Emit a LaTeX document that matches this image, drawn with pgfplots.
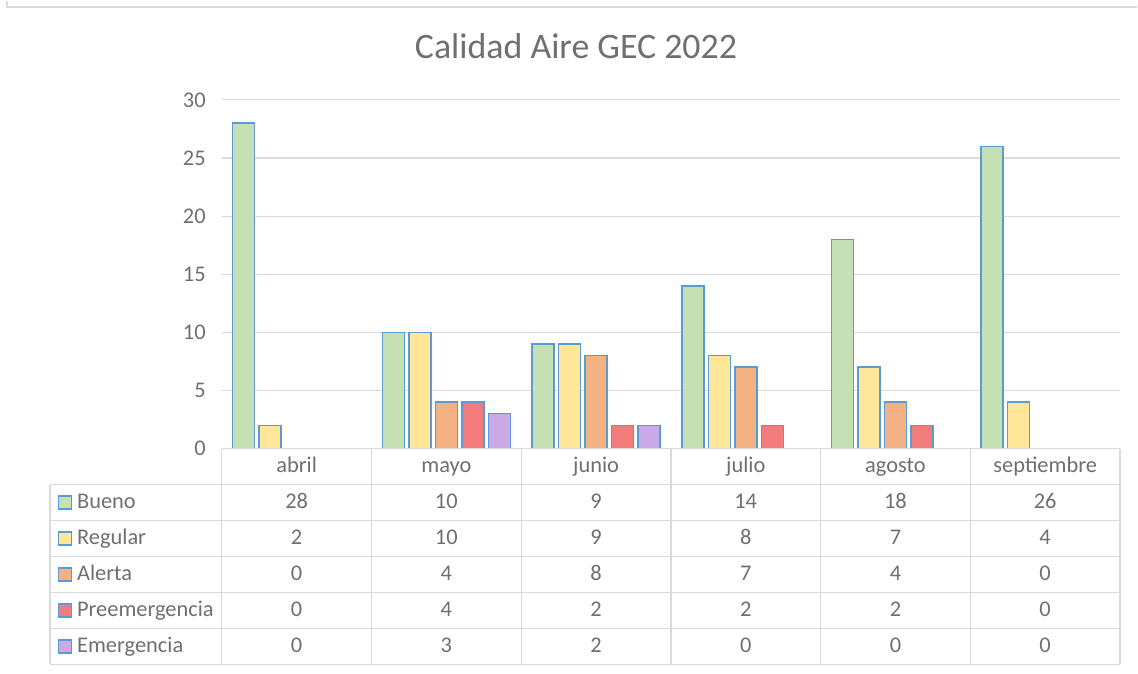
\documentclass[border=0pt]{standalone}
\usepackage{fontspec}
\setmainfont{Carlito}
\usepackage{pgfplots}
\pgfplotsset{compat=1.18}
\definecolor{txt}{HTML}{6F6F6F}
\definecolor{gridc}{HTML}{DADADA}
\definecolor{edge}{HTML}{5B9BD5}
\definecolor{cB}{HTML}{C5E0B4}
\definecolor{cR}{HTML}{FFE699}
\definecolor{cA}{HTML}{F4B183}
\definecolor{cP}{HTML}{F47B7B}
\definecolor{cE}{HTML}{CAA9E6}
\begin{document}
\begin{tikzpicture}[x=1bp,y=1bp]
\path (0,0) rectangle (1138,673);
\draw[gridc, line width=2bp] (7,673)--(7,667)--(1138,667);
\begin{axis}[at={(222bp,225bp)}, anchor=south west, scale only axis,
  width=899bp, height=349bp,
  xmin=-0.5, xmax=5.5, ymin=0, ymax=30,
  ytick={0,5,...,30}, ymajorgrids, grid style={gridc, line width=1.2bp},
  axis line style={draw=none}, tick style={draw=none},
  xtick={0,...,5}, xticklabels={abril,mayo,junio,julio,agosto,septiembre},
  tick label style={font=\fontsize{22.5}{26}\selectfont, text=txt},
  /pgf/number format/assume math mode=true,
  x tick label style={anchor=base, yshift=-24bp},
  y tick label style={xshift=-12.7bp},
  clip=false]
\addplot[ybar, bar width=0.147, bar shift=-0.354, fill=cB, draw=edge, line width=1.5bp]
  coordinates {(0,28) (1,10) (2,9) (3,14) (4,18) (5,26)};
\addplot[ybar, bar width=0.147, bar shift=-0.177, fill=cR, draw=edge, line width=1.5bp]
  coordinates {(0,2) (1,10) (2,9) (3,8) (4,7) (5,4)};
\addplot[ybar, bar width=0.147, bar shift=0, fill=cA, draw=edge, line width=1.5bp]
  coordinates {(1,4) (2,8) (3,7) (4,4)};
\addplot[ybar, bar width=0.147, bar shift=0.177, fill=cP, draw=edge, line width=1.5bp]
  coordinates {(1,4) (2,2) (3,2) (4,2)};
\addplot[ybar, bar width=0.147, bar shift=0.354, fill=cE, draw=edge, line width=1.5bp]
  coordinates {(1,3) (2,2)};
\end{axis}
% data table
\draw[gridc, line width=1.3bp] (222,225)--(1121,225);
\foreach \y in {189,153,117,81,45,9} \draw[gridc, line width=1.3bp] (50,\y)--(1121,\y);
\foreach \x in {222,371.83,521.67,671.5,821.33,971.17,1121} \draw[gridc, line width=1.3bp] (\x,225)--(\x,9);
\draw[gridc, line width=1.3bp] (50,189)--(50,9);
\foreach \name/\col/\vals [count=\i from 0] in {
  Bueno/cB/{28,10,9,14,18,26},
  Regular/cR/{2,10,9,8,7,4},
  Alerta/cA/{0,4,8,7,4,0},
  Preemergencia/cP/{0,4,2,2,2,0},
  Emergencia/cE/{0,3,2,0,0,0}} {
  \pgfmathsetmacro{\yc}{171-36*\i}
  \filldraw[fill=\col, draw=edge, line width=1.3bp] (58.5,\yc-6.5) rectangle ++(13,13);
  \node[anchor=base west, inner sep=0, text=txt, font=\fontsize{22.5}{26}\selectfont] at (77,\yc-6) {\name};
  \foreach \v [count=\j from 0] in \vals {
    \node[anchor=base, inner sep=0, text=txt, font=\fontsize{22.5}{26}\selectfont] at (296.9+149.83*\j,\yc-6) {\v};
  }
}
\node[anchor=base, inner sep=0, text=txt, font=\fontsize{36}{42}\selectfont] at (576.5,615) {Calidad Aire GEC 2022};
\end{tikzpicture}
\end{document}
